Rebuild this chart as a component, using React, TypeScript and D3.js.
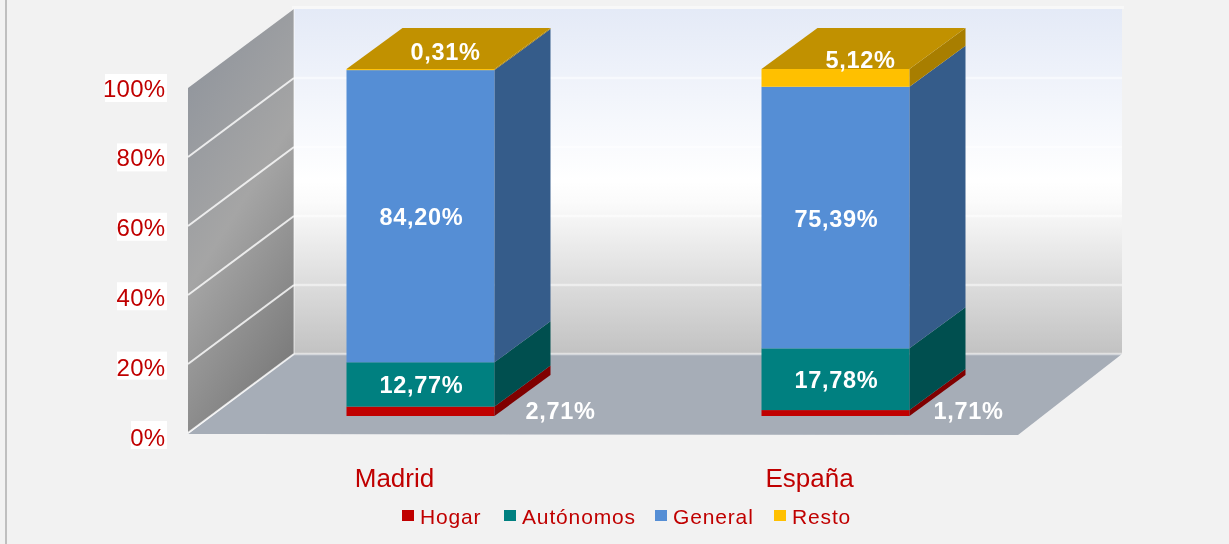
import React from "react";
import * as d3 from "d3";

const categories = ["Madrid", "España"];
const seriesNames = ["Hogar", "Autónomos", "General", "Resto"];
const hogar = [2.71, 1.71];
const autonomos = [12.77, 17.78];
const general = [84.2, 75.39];
const resto = [0.31, 5.12];
const yTicks = [0, 20, 40, 60, 80, 100];

const frontColors = ["#c00000", "#008080", "#558ed5", "#ffc000"];
const sideColors = ["#800000", "#005050", "#355c8a", "#a87e00"];
const topColor = "#c19100";
const red = "#c00000";
const fontFamily = "'Liberation Sans', Arial, sans-serif";

const width = 1229;
const height = 544;
const floorLeft = 188;
const floorRight = 1018;
const wallDx = 106;
const wallDy = 79;
const barDx = 56;
const barDy = 41;
const barInset = 25;

const rows = categories.map((c, i) => ({
  category: c,
  Hogar: hogar[i],
  "Autónomos": autonomos[i],
  General: general[i],
  Resto: resto[i],
}));
const stacked = d3.stack<any>().keys(seriesNames)(rows);

const x = d3
  .scaleBand()
  .domain(categories)
  .range([floorLeft, floorRight])
  .paddingInner(0.6434)
  .paddingOuter(0.3217);
const y = d3.scaleLinear().domain([0, 100]).range([433, 88]);
const yLabel = d3.scaleLinear().domain([0, 100]).range([437, 88]);
const yLabelBox = d3.scaleLinear().domain([0, 100]).range([435, 88]);
const yBar = d3.scaleLinear().domain([0, 100]).range([416, 69]);

const poly = d3.line<[number, number]>();
const fmt = (v: number) => v.toFixed(2).replace(".", ",") + "%";

const legendX = [402, 504, 655, 774];

export default function App() {
  const back = (v: number) => y(v) - wallDy;
  const wallRight = floorRight + wallDx - 2;
  return (
    <svg
      width={width}
      height={height}
      style={{ position: "absolute", left: 0, top: 0, display: "block" }}
      fontFamily={fontFamily}
    >
      <defs>
        <linearGradient id="wallBack" x1="0" y1="0" x2="0" y2="1">
          <stop offset="0" stopColor="#e4eaf7" />
          <stop offset="0.5" stopColor="#ffffff" />
          <stop offset="0.56" stopColor="#fbfbfb" />
          <stop offset="1" stopColor="#c2c2c2" />
        </linearGradient>
        <linearGradient id="wallLeft" x1="0.2" y1="0" x2="0.6" y2="1">
          <stop offset="0" stopColor="#8f949c" />
          <stop offset="0.5" stopColor="#a5a5a5" />
          <stop offset="1" stopColor="#7a7a7a" />
        </linearGradient>
        <filter id="soft" x="0" y="0" width="100%" height="100%">
          <feGaussianBlur stdDeviation="0.45" />
        </filter>
      </defs>
      <rect width={width} height={height} fill="#f2f2f2" />
      <rect x={5} y={0} width={2} height={height} fill="#bfbfbf" />

      <g filter="url(#soft)">
        {/* walls and floor */}
        <rect
          x={floorLeft + wallDx - 2}
          y={back(100) - 3}
          width={wallRight - floorLeft - wallDx + 4}
          height={3}
          fill="#f8f8f8"
        />
        <rect
          x={floorLeft + wallDx}
          y={back(100)}
          width={wallRight - floorLeft - wallDx}
          height={y(0) - y(100)}
          fill="url(#wallBack)"
        />
        <path
          d={
            poly([
              [floorLeft, y(0)],
              [floorLeft, y(100)],
              [floorLeft + wallDx, back(100)],
              [floorLeft + wallDx, back(0)],
            ]) + "Z"
          }
          fill="url(#wallLeft)"
        />
        <path
          d={
            poly([
              [floorLeft, y(0) + 1],
              [floorRight, y(0) + 2],
              [wallRight, back(0)],
              [floorLeft + wallDx, back(0)],
            ]) + "Z"
          }
          fill="#a6adb7"
        />
        <path
          d={
            poly([
              [floorLeft + wallDx, back(100)],
              [floorLeft + wallDx, back(0)],
            ]) ?? ""
          }
          stroke="#ffffff"
          strokeOpacity={0.45}
          strokeWidth={1.5}
          fill="none"
        />

        {/* gridlines */}
        {yTicks.map((t) => (
          <g key={t} fill="none" stroke="#ffffff">
            {t < 100 && (
              <path
                d={
                  poly([
                    [floorLeft, y(t)],
                    [floorLeft + wallDx, back(t)],
                  ]) ?? ""
                }
                strokeWidth={2}
                strokeOpacity={0.8}
              />
            )}
            {t < 100 && (
              <path
                d={
                  poly([
                    [floorLeft + wallDx, back(t)],
                    [wallRight, back(t)],
                  ]) ?? ""
                }
                strokeWidth={2.5}
                strokeOpacity={0.5}
              />
            )}
          </g>
        ))}

        {/* bars */}
        {categories.map((c, i) => {
          const x0 = (x(c) as number) + barInset;
          const x1 = x0 + x.bandwidth();
          return (
            <g key={c}>
              {stacked.map((s, k) => {
                const y0 = yBar(s[i][0]);
                const y1 = yBar(s[i][1]);
                return (
                  <g key={s.key}>
                    <rect x={x0} y={y1} width={x.bandwidth()} height={y0 - y1} fill={frontColors[k]} />
                    <path
                      d={
                        poly([
                          [x1, y0],
                          [x1, y1],
                          [x1 + barDx, y1 - barDy],
                          [x1 + barDx, y0 - barDy],
                        ]) + "Z"
                      }
                      fill={sideColors[k]}
                    />
                  </g>
                );
              })}
              <path
                d={
                  poly([
                    [x0, yBar(100)],
                    [x1, yBar(100)],
                    [x1 + barDx, yBar(100) - barDy],
                    [x0 + barDx, yBar(100) - barDy],
                  ]) + "Z"
                }
                fill={topColor}
              />
            </g>
          );
        })}

        {/* data labels */}
        {categories.map((c, i) => {
          const cx = (x(c) as number) + barInset + x.bandwidth() / 2;
          return stacked.map((s, k) => {
            const mid = yBar((s[i][0] + s[i][1]) / 2);
            let lx = cx + 1;
            let ly = mid + 1;
            if (k === 0) {
              lx = cx + (i === 0 ? 140 : 133);
              ly = 411;
            }
            if (k === 3) {
              lx = cx + 25;
              ly = mid - 18;
            }
            return (
              <text
                key={c + s.key}
                x={lx}
                y={ly}
                textAnchor="middle"
                dominantBaseline="central"
                fill="#ffffff"
                fontWeight="bold"
                fontSize={23.5}
                letterSpacing={0.7}
              >
                {fmt(s[i][1] - s[i][0])}
              </text>
            );
          });
        })}

        {/* y axis labels */}
        {yTicks.map((t) => {
          const label = t + "%";
          const w = label.length === 2 ? 36 : 12 * label.length + 14;
          return (
            <g key={t}>
              <rect x={167 - w} y={yLabelBox(t) - 14} width={w} height={28} fill="#ffffff" />
              <text
                x={165.5}
                y={yLabel(t)}
                textAnchor="end"
                dominantBaseline="central"
                fill={red}
                fontSize={24}
                letterSpacing={0.3}
              >
                {label}
              </text>
            </g>
          );
        })}

        {/* category labels */}
        {categories.map((c) => (
          <text
            key={c}
            x={(x(c) as number) + x.bandwidth() / 2 - 1}
            y={478}
            textAnchor="middle"
            dominantBaseline="central"
            fill={red}
            fontSize={26}
          >
            {c}
          </text>
        ))}

        {/* legend */}
        {seriesNames.map((name, k) => (
          <g key={name}>
            <rect x={legendX[k]} y={510} width={12} height={11} fill={frontColors[k]} />
            <text
              x={legendX[k] + 18}
              y={516}
              dominantBaseline="central"
              fill={red}
              fontSize={21}
              letterSpacing={0.85}
            >
              {name}
            </text>
          </g>
        ))}
      </g>
    </svg>
  );
}
